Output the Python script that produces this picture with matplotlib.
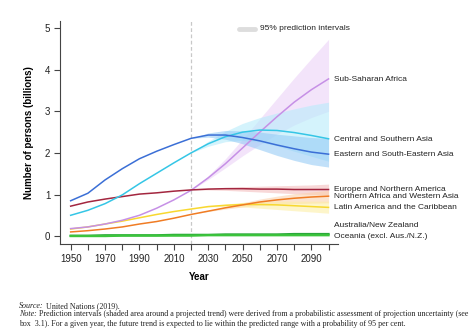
import numpy as np
import matplotlib
matplotlib.use("Agg")
import matplotlib.pyplot as plt
from matplotlib.lines import Line2D

plt.rcParams['font.family'] = ['Liberation Sans', 'DejaVu Sans']

years = [1950, 1960, 1970, 1980, 1990, 2000, 2010, 2020, 2030, 2040, 2050,
         2060, 2070, 2080, 2090, 2100]
proj_years = [2020, 2030, 2040, 2050, 2060, 2070, 2080, 2090, 2100]

# population, billions
east_se_asia = [0.85, 1.03, 1.35, 1.62, 1.86, 2.04, 2.20, 2.35, 2.43, 2.43,
                2.37, 2.29, 2.19, 2.10, 2.02, 1.97]
central_s_asia = [0.50, 0.62, 0.78, 0.99, 1.26, 1.51, 1.76, 2.00, 2.22, 2.39,
                  2.50, 2.55, 2.54, 2.49, 2.42, 2.34]
ssa = [0.18, 0.22, 0.29, 0.38, 0.50, 0.67, 0.87, 1.10, 1.40, 1.74, 2.12,
       2.50, 2.87, 3.22, 3.52, 3.78]
europe_na = [0.72, 0.82, 0.89, 0.95, 1.01, 1.04, 1.08, 1.11, 1.13, 1.14,
             1.14, 1.13, 1.13, 1.12, 1.12, 1.12]
n_africa_w_asia = [0.10, 0.13, 0.17, 0.22, 0.29, 0.35, 0.43, 0.52, 0.60,
                   0.68, 0.75, 0.82, 0.87, 0.91, 0.94, 0.96]
latin_am = [0.17, 0.22, 0.29, 0.36, 0.44, 0.52, 0.59, 0.65, 0.71, 0.74,
            0.76, 0.76, 0.75, 0.73, 0.71, 0.69]
aus_nz = [0.01, 0.01, 0.02, 0.02, 0.02, 0.02, 0.03, 0.03, 0.03, 0.04,
          0.04, 0.04, 0.04, 0.05, 0.05, 0.05]
oceania = [0.00, 0.00, 0.00, 0.01, 0.01, 0.01, 0.01, 0.01, 0.02, 0.02,
           0.02, 0.02, 0.02, 0.02, 0.02, 0.02]

# 95% prediction intervals
ssa_lo = [1.10, 1.36, 1.64, 1.93, 2.20, 2.45, 2.67, 2.85, 3.00]
ssa_hi = [1.10, 1.45, 1.86, 2.33, 2.82, 3.31, 3.80, 4.27, 4.73]
csa_lo = [2.00, 2.16, 2.27, 2.30, 2.26, 2.17, 2.04, 1.92, 1.80]
csa_hi = [2.00, 2.28, 2.52, 2.71, 2.85, 2.96, 3.06, 3.15, 3.22]
esa_lo = [2.35, 2.38, 2.33, 2.22, 2.08, 1.94, 1.82, 1.72, 1.66]
esa_hi = [2.35, 2.48, 2.54, 2.53, 2.50, 2.45, 2.41, 2.37, 2.35]
eur_lo = [1.11, 1.11, 1.10, 1.08, 1.06, 1.04, 1.02, 1.00, 0.99]
eur_hi = [1.11, 1.15, 1.17, 1.19, 1.20, 1.21, 1.22, 1.23, 1.25]
nawa_lo = [0.52, 0.59, 0.65, 0.70, 0.74, 0.76, 0.78, 0.79, 0.80]
nawa_hi = [0.52, 0.61, 0.71, 0.80, 0.89, 0.96, 1.02, 1.06, 1.10]
lat_lo = [0.65, 0.70, 0.71, 0.70, 0.67, 0.64, 0.61, 0.58, 0.55]
lat_hi = [0.65, 0.72, 0.77, 0.81, 0.83, 0.84, 0.84, 0.84, 0.84]

labels = ["Sub-Saharan Africa", "Central and Southern Asia",
          "Eastern and South-Eastern Asia", "Europe and Northern America",
          "Northern Africa and Western Asia", "Latin America and the Caribbean",
          "Australia/New Zealand", "Oceania (excl. Aus./N.Z.)"]
label_y = [3.77, 2.33, 1.96, 1.12, 0.94, 0.68, 0.26, 0.0]

fig = plt.figure(figsize=(4.74, 3.33), dpi=100)
ax = fig.add_axes([0.1266, 0.2673, 0.5865, 0.6706])

# bands
ax.fill_between(proj_years, ssa_lo, ssa_hi, color='#ecd3f7', alpha=0.6, lw=0)
ax.fill_between(proj_years, csa_lo, csa_hi, color='#b8ecfb', alpha=0.6, lw=0)
ax.fill_between(proj_years, esa_lo, esa_hi, color='#8fc8f5', alpha=0.55, lw=0)
ax.fill_between(proj_years, eur_lo, eur_hi, color='#f4b8b8', alpha=0.55, lw=0)
ax.fill_between(proj_years, nawa_lo, nawa_hi, color='#fbcfa8', alpha=0.55, lw=0)
ax.fill_between(proj_years, lat_lo, lat_hi, color='#fdeea0', alpha=0.55, lw=0)

ax.axvline(2020, color='#c8c8c8', lw=0.9, ls=(0, (3, 2)), zorder=1)

lw = 1.1
ax.plot(years, latin_am, color='#f8d830', lw=lw)
ax.plot(years, n_africa_w_asia, color='#f07c24', lw=lw)
ax.plot(years, ssa, color='#c690e6', lw=lw)
ax.plot(years, europe_na, color='#a3263f', lw=lw)
ax.plot(years, central_s_asia, color='#35c6e6', lw=lw)
ax.plot(years, east_se_asia, color='#3b6fd6', lw=lw)
ax.plot(years, aus_nz, color='#2aa83a', lw=1.6)
ax.plot(years, oceania, color='#3cc43c', lw=1.6)

for lab, yv in zip(labels, label_y):
    ax.text(2103.2, yv, lab, fontsize=6, va='center', ha='left',
            color='#222222', clip_on=False)

# legend
ax.add_line(Line2D([2047.8, 2057.0], [4.98, 4.98], color='#dddddd', lw=3.5,
                   solid_capstyle='round', clip_on=False))
ax.text(2060.1, 4.98, "95% prediction intervals", fontsize=6, va='center',
        ha='left', color='#222222')

ax.set_xlim(1943.8, 2105.5)
ax.set_ylim(-0.19, 5.18)
ax.set_xticks(np.arange(1950, 2101, 10))
ax.set_xticklabels([str(y) if (y - 1950) % 20 == 0 and y < 2100 else ''
                    for y in range(1950, 2101, 10)])
ax.set_yticks([0, 1, 2, 3, 4, 5])
ax.tick_params(direction='out', length=4, width=0.8, colors='#444444',
               labelsize=7, labelcolor='#222222', pad=3)
for s in ['top', 'right']:
    ax.spines[s].set_visible(False)
for s in ['left', 'bottom']:
    ax.spines[s].set_color('#444444')
    ax.spines[s].set_linewidth(0.8)

ax.set_xlabel("Year", fontsize=7, fontweight='bold', labelpad=6)
ax.set_ylabel("Number of persons (billions)", fontsize=7, fontweight='bold',
              labelpad=8)

# footer notes
renderer = fig.canvas.get_renderer()
serif = ['Liberation Serif', 'DejaVu Serif']
x0 = 19 / 474
full_w = (470 - 19) / 474


def rich(x, y, ital, rest, size):
    t = fig.text(x, y, ital, fontsize=size, family=serif, style='italic',
                 va='baseline', ha='left', color='#222222')
    w = t.get_window_extent(renderer).width / fig.bbox.width
    t2 = fig.text(x + w, y, rest, fontsize=size, family=serif,
                  va='baseline', ha='left', color='#222222')
    return t, t2


note1 = " Prediction intervals (shaded area around a projected trend) were derived from a probabilistic assessment of projection uncertainty (see"
note2 = "box  3.1). For a given year, the future trend is expected to lie within the predicted range with a probability of 95 per cent."

a, b = rich(x0, 0.5, "Note:", note1, 5)
wtot = (a.get_window_extent(renderer).width + b.get_window_extent(renderer).width) / fig.bbox.width
a.remove()
b.remove()
fsize = 5 * full_w / wtot

rich(x0, 1 - 308 / 333, "Source:", " United Nations (2019).", fsize)
rich(x0, 1 - 316 / 333, "Note:", note1, fsize)
fig.text(x0, 1 - 326 / 333, note2, fontsize=fsize, family=serif,
         va='baseline', ha='left', color='#222222')

fig.savefig("out.png", dpi=100)
